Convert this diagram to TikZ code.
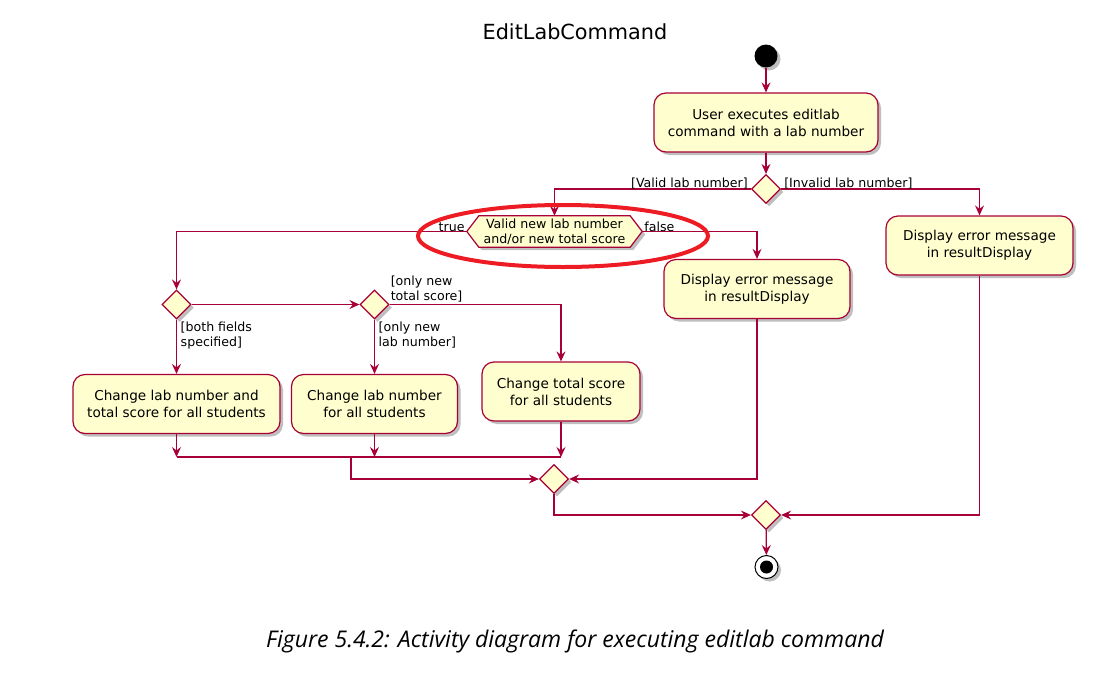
\documentclass[tikz,border=0pt]{standalone}
\usepackage{fontspec}
\setmainfont{DejaVu Sans}
\newfontfamily\capfont{Open Sans}
\usetikzlibrary{shapes.geometric,arrows.meta,shadows,backgrounds}
\definecolor{umlred}{RGB}{168,0,54}
\definecolor{umlfill}{RGB}{254,254,206}
\definecolor{markred}{RGB}{237,28,36}
\tikzset{
  shad/.style={drop shadow={shadow xshift=3pt,shadow yshift=-3pt,opacity=0.25,fill=black}},
  act/.style={draw=umlred,fill=umlfill,rounded corners=12pt,line width=1.2pt,minimum height=59pt,
    align=center,inner sep=2pt,font=\fontsize{13.6}{17}\selectfont,shad},
  dec/.style={diamond,draw=umlred,fill=umlfill,line width=1.2pt,minimum width=29pt,minimum height=29pt,inner sep=0pt,shad},
  flow/.style={draw=umlred,line width=1.2pt,-{Stealth[length=10pt,width=9pt,inset=3.5pt]}},
  plain/.style={draw=umlred,line width=1.2pt},
  lbl/.style={font=\fontsize{12.6}{15.5}\selectfont,inner sep=1pt,align=left},
}
\begin{document}
\begin{tikzpicture}[x=1pt,y=-1pt]
\useasboundingbox (0,0) rectangle (1106,675);
% title
\node[font=\fontsize{20.8}{24}\selectfont] (title) at (575,32) {EditLabCommand};
% start
\node[circle,fill=black,minimum size=23pt,inner sep=0pt,shad] (start) at (766,56) {};
% activities
\node[act,minimum width=224pt] (b1) at (766,122.5) {User executes editlab\\command with a lab number};
\node[dec] (d1) at (766,189) {};
\node[act,minimum width=187pt] (bR) at (979.5,245.5) {Display error message\\in resultDisplay};
\node[lbl,align=center,font=\fontsize{12.6}{15}\selectfont,minimum width=175pt,minimum height=31pt,inner sep=0pt] (hex) at (554.5,231.5) {Valid new lab number\\and/or new total score};
\begin{scope}[on background layer]
\draw[draw=umlred,fill=umlfill,line width=1.2pt,shad] (hex.west) -- ([xshift=12pt]hex.north west) -- ([xshift=-12pt]hex.north east) -- (hex.east) -- ([xshift=-12pt]hex.south east) -- ([xshift=12pt]hex.south west) -- cycle;
\end{scope}
\node[act,minimum width=186pt] (bM) at (757,289) {Display error message\\in resultDisplay};
\node[dec] (d2) at (176.5,304.5) {};
\node[dec] (d3) at (374.5,304.5) {};
\node[act,minimum width=207pt] (bA) at (176.5,404) {Change lab number and\\total score for all students};
\node[act,minimum width=166pt] (bB) at (374.5,404) {Change lab number\\for all students};
\node[act,minimum width=158pt] (bC) at (561,391.5) {Change total score\\for all students};
\node[dec] (m1) at (554,479) {};
\node[dec] (m2) at (766,515) {};
\node[circle,draw=black,fill=white,line width=1pt,minimum size=23pt,inner sep=0pt,shad] (end) at (766.5,567) {};
\fill[black] (end.center) circle (6.5pt);
% join coordinates
\coordinate (jA) at (176.5,457);
\coordinate (jB) at (374.5,457);
\coordinate (jC) at (561,457);
\coordinate (jM) at (351,457);
% connectors
\draw[flow] (start) -- (b1);
\draw[flow] (b1) -- (d1);
\draw[flow] (d1.west) -| (hex.north);
\draw[flow] (d1.east) -| (bR.north);
\draw[flow] (hex.west) -| (d2.north);
\draw[flow] (hex.east) -| (bM.north);
\draw[flow] (d2.east) -- (d3.west);
\draw[flow] (d2.south) -- (bA.north);
\draw[flow] (d3.south) -- (bB.north);
\draw[flow] (d3.east) -| (bC.north);
\draw[flow] (bA.south) -- (jA);
\draw[flow] (bB.south) -- (jB);
\draw[flow] (bC.south) -- (jC);
\draw[plain] (jA) -- (jC);
\draw[flow] (jM) |- (m1.west);
\draw[flow] (bM.south) |- (m1.east);
\draw[flow] (m1.south) |- (m2.west);
\draw[flow] (bR.south) |- (m2.east);
\draw[flow] (m2) -- (end);
% labels
\node[lbl,anchor=south east] (l1) at ([xshift=-2pt,yshift=-1pt]d1.west) {[Valid lab number]};
\node[lbl,anchor=south west] (l2) at ([xshift=2pt,yshift=-1pt]d1.east) {[Invalid lab number]};
\node[lbl,anchor=south east] (l3) at ([xshift=-1pt,yshift=-1pt]hex.west) {true};
\node[lbl,anchor=south west] (l4) at ([xshift=1pt,yshift=-1pt]hex.east) {false};
\node[lbl,anchor=north west] (l5) at ([xshift=3pt,yshift=-1pt]d2.south) {[both fields\\specified]};
\node[lbl,anchor=north west] (l6) at ([xshift=3pt,yshift=-1pt]d3.south) {[only new\\lab number]};
\node[lbl,anchor=south west] (l7) at ([xshift=0pt,yshift=1pt]d3.east) {[only new\\total score]};
% highlight ellipse
\draw[markred,line width=4pt] (563,236) ellipse [x radius=145pt,y radius=31pt];
% caption
\node[font=\capfont\itshape\fontsize{23}{27}\selectfont] (cap) at (575,641) {Figure 5.4.2: Activity diagram for executing editlab command};
\end{tikzpicture}
\end{document}
